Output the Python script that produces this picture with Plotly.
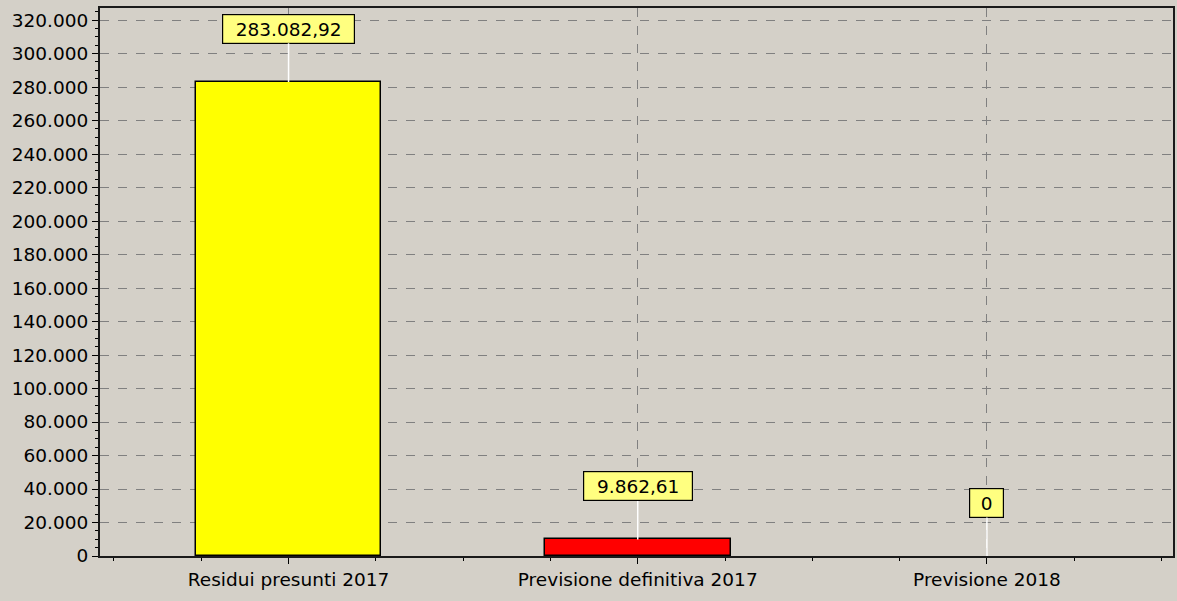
import plotly.graph_objects as go

categories = ["Residui presunti 2017", "Previsione definitiva 2017", "Previsione 2018"]
values = [283082.92, 9862.61, 0.0]
bar_colors = ["#FFFF00", "#FF0000", "#0000FF"]
y_tick_step = 20000
y_max_tick = 320000


def fmt_it(v):
    if v == 0:
        return "0"
    s = f"{v:,.2f}"
    return s.replace(",", "X").replace(".", ",").replace("X", ".")


positions = list(range(len(categories)))
FONT = "DejaVu Sans"
BG = "#D4D0C8"
FS = 18.5

fig = go.Figure()
fig.add_trace(go.Bar(
    x=positions, y=values, width=0.532,
    marker=dict(color=bar_colors,
                line=dict(color="#000000", width=[1.5 if v else 0 for v in values])),
    hoverinfo="skip", showlegend=False,
))

for xp, v in zip(positions, values):
    txt = fmt_it(v)
    w = max(29, 11.5 * len(txt) + 12)
    fig.add_annotation(
        x=xp, y=v, xref="x", yref="y", text=txt,
        showarrow=True, arrowhead=0, arrowwidth=1.5, arrowcolor="#FFFFFF",
        ax=0, ay=-53, standoff=0,
        bgcolor="#FFFF80", bordercolor="#000000", borderwidth=1.2, borderpad=2,
        width=w, height=24,
        font=dict(family=FONT, size=FS, color="#000000"),
    )

fig.update_layout(
    width=1177, height=601,
    margin=dict(l=100, r=2, t=8, b=45),
    paper_bgcolor=BG, plot_bgcolor=BG,
    separators=",.",
    font=dict(family=FONT, size=FS, color="#000000"),
    bargap=0,
)
fig.update_xaxes(
    range=[-0.54, 2.533],
    tickvals=positions, ticktext=categories,
    showgrid=True, gridcolor="#808080", griddash="dash", gridwidth=1,
    showline=True, linecolor="#1A1A1A", linewidth=2, mirror=True,
    ticks="outside", ticklen=6, tickcolor="#000000",
    minor=dict(dtick=0.25, tick0=0, ticks="outside", ticklen=3, tickcolor="#000000", showgrid=False),
    zeroline=False, fixedrange=True,
)
fig.update_yaxes(
    range=[0, 327200],
    dtick=y_tick_step, tick0=0, tickformat=",d",
    showgrid=True, gridcolor="#808080", griddash="dash", gridwidth=1,
    showline=True, linecolor="#1A1A1A", linewidth=2, mirror=True,
    ticks="outside", ticklen=6, tickcolor="#000000",
    minor=dict(dtick=5000, ticks="outside", ticklen=3, tickcolor="#000000", showgrid=False),
    zeroline=False, fixedrange=True,
)

fig.write_html(
    "out.html",
    config={"displayModeBar": False},
    post_script="document.body.style.margin='0';document.body.style.overflow='hidden';",
)
